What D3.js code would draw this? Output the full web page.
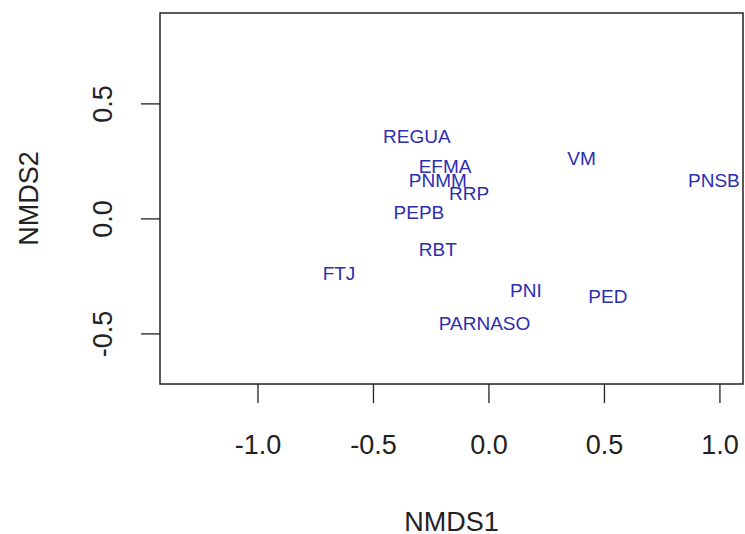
<!DOCTYPE html>
<html lang="en">
<head>
  <meta charset="utf-8">
    <title>NMDS ordination</title>
    <script type="text/javascript" src="https://d3js.org/d3.v7.min.js"></script>

    <style type="text/css">
      body { margin: 0; background: #fff; }
      svg text { font-family: "Liberation Sans", Arial, sans-serif; }
    </style>
</head>
<body>
  <script type="text/javascript">

// site scores
var sites = ["REGUA", "EFMA", "PNMM", "RRP", "PEPB", "RBT", "FTJ", "PNI", "PARNASO", "VM", "PNSB", "PED"];
var nmds1 = [-0.310, -0.188, -0.219, -0.084, -0.301, -0.219, -0.647, 0.162, -0.017, 0.403, 0.976, 0.517];
var nmds2 = [0.356, 0.228, 0.167, 0.109, 0.026, -0.133, -0.237, -0.311, -0.454, 0.263, 0.167, -0.340];
var xTicks = [-1.0, -0.5, 0.0, 0.5, 1.0];
var yTicks = [-0.5, 0.0, 0.5];

// plot region (note: "top" is taken by window.top, so use other names)
var width = 745, height = 534,
    boxL = 160, boxR = 743, boxT = 13, boxB = 384;

var svg = d3.select("body")
    .append("svg")
    .attr("width", width)
    .attr("height", height);

var x = d3.scaleLinear().domain([-1.422, 1.102]).range([boxL, boxR]);
var y = d3.scaleLinear().domain([-0.72, 0.893]).range([boxB, boxT]);

var data = sites.map(function(s, i) {
  return {site: s, x: nmds1[i], y: nmds2[i]};
});

var fmt = function(d) { return d3.format(".1f")(d).replace("\u2212", "-"); };

// x axis (R style: ticks only, box drawn separately)
var gx = svg.append("g")
    .attr("transform", "translate(0," + boxB + ")")
    .call(d3.axisBottom(x).tickValues(xTicks).tickSize(19).tickSizeOuter(0));
gx.select(".domain").remove();
gx.selectAll("line").attr("stroke", "#222").attr("stroke-width", 1.3);
gx.selectAll("text")
    .attr("y", 70).attr("dy", null)
    .attr("font-size", 27).attr("fill", "#222")
    .text(fmt);

// y axis, labels rotated like las=0
var gy = svg.append("g")
    .attr("transform", "translate(" + boxL + ",0)")
    .call(d3.axisLeft(y).tickValues(yTicks).tickSize(19).tickSizeOuter(0));
gy.select(".domain").remove();
gy.selectAll("line").attr("stroke", "#222").attr("stroke-width", 1.3);
gy.selectAll("text")
    .attr("transform", "rotate(-90)")
    .attr("x", 0).attr("y", -48).attr("dy", null)
    .attr("text-anchor", "middle")
    .attr("font-size", 27).attr("fill", "#222")
    .text(fmt);

// plot box
svg.append("rect")
    .attr("x", boxL).attr("y", boxT)
    .attr("width", boxR - boxL).attr("height", boxB - boxT)
    .attr("fill", "none")
    .attr("stroke", "#222")
    .attr("stroke-width", 1.5);

// site labels
svg.selectAll(".site")
    .data(data)
    .enter()
    .append("text")
    .attr("class", "site")
    .attr("x", function(d) { return x(d.x); })
    .attr("y", function(d) { return y(d.y); })
    .attr("dy", "0.36em")
    .attr("text-anchor", "middle")
    .attr("font-size", 19)
    .attr("fill", "#2d2db0")
    .text(function(d) { return d.site; });

// axis titles
svg.append("text")
    .attr("x", (boxL + boxR) / 2)
    .attr("y", 531)
    .attr("text-anchor", "middle")
    .attr("font-size", 27)
    .attr("fill", "#222")
    .text("NMDS1");

svg.append("text")
    .attr("transform", "translate(38," + (boxT + boxB) / 2 + ") rotate(-90)")
    .attr("text-anchor", "middle")
    .attr("font-size", 27)
    .attr("fill", "#222")
    .text("NMDS2");

</script>
</body>
</html>
